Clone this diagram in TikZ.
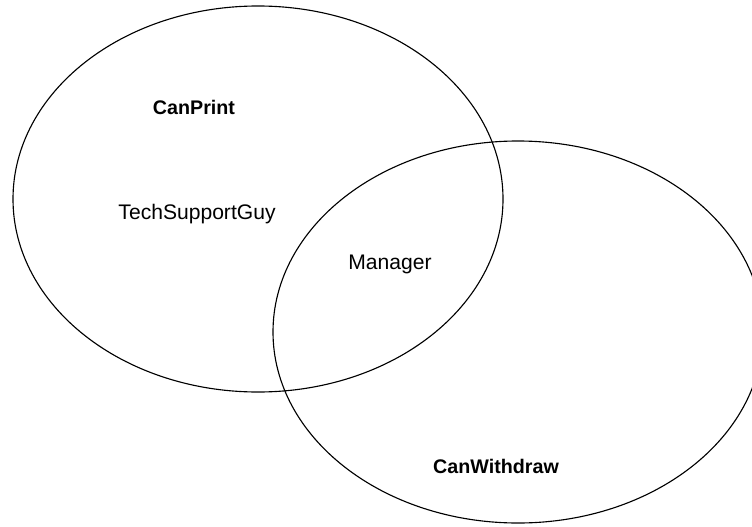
\documentclass[tikz,border=0pt]{standalone}
\usepackage{fontspec}
\setmainfont{Liberation Sans}
\usepackage{tikz}
\usetikzlibrary{positioning}

\tikzset{
  setline/.style={line width=.8pt},
  member/.style={font=\fontsize{15}{17}\selectfont},
  setname/.style={font=\fontsize{14}{16}\selectfont\bfseries}
}

\begin{document}
\begin{tikzpicture}
\useasboundingbox (0,0) rectangle (18.8,13.15);
% the two sets
\draw[setline] (6.45,8.175) ellipse (6.125 and 4.825);
\draw[setline] (12.95,4.85) ellipse (6.125 and 4.775);
% labels
\node[setname] (canprint) at (4.85,10.475){CanPrint};
\node[member] (techguy) at (4.925,7.8){TechSupportGuy};
\node[member] (manager) at (9.75,6.55){Manager};
\node[setname] (canwithdraw) at (12.4,1.5){CanWithdraw};
\end{tikzpicture}
\end{document}
